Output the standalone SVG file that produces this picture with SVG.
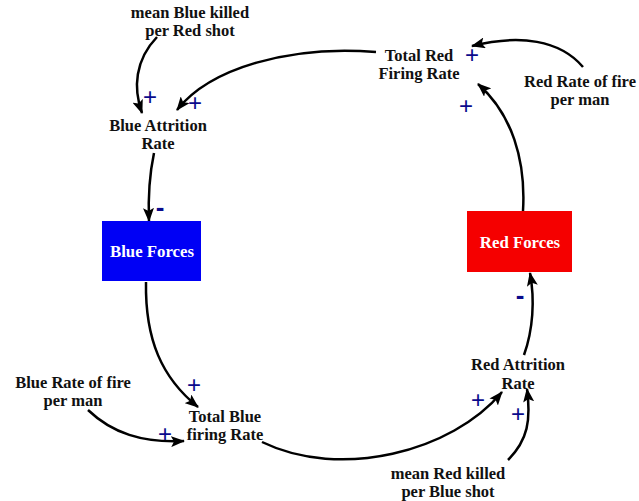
<svg xmlns="http://www.w3.org/2000/svg" width="639" height="501" viewBox="0 0 639 501">
<style>
.lbl{font-family:"Liberation Serif","Times New Roman",serif;font-weight:bold;font-size:16.5px;fill:#111;text-anchor:middle}
.box{font-family:"Liberation Serif","Times New Roman",serif;font-weight:bold;font-size:16.8px;fill:#fff;text-anchor:middle}
.pol{font-family:"Liberation Sans",Arial,sans-serif;font-size:24px;fill:#0a0a8c;text-anchor:middle}
.neg{font-family:"Liberation Sans",Arial,sans-serif;font-size:26px;font-weight:bold;fill:#0a0a8c;text-anchor:middle}
.c{fill:none;stroke:#000;stroke-width:2.5;marker-end:url(#ah)}
</style>
<defs>
<marker id="ah" viewBox="0 0 14 11" refX="13" refY="5.5" markerWidth="14" markerHeight="11" markerUnits="userSpaceOnUse" orient="auto">
<path d="M0,0 L14,5.5 L0,11 L3,5.5 Z" fill="#000"/>
</marker>
</defs>
<rect width="639" height="501" fill="#fff"/>
<g id="connectors">
<path class="c" d="M376,52 C290,45 210,68 177,110"/>
<path class="c" d="M157,37 C135,60 133,88 142,113"/>
<path class="c" d="M154,153 C150,172 148,196 149,221"/>
<path class="c" d="M146,282 C145,340 162,378 198,407"/>
<path class="c" d="M88,410 C112,433 142,443 184,441"/>
<path class="c" d="M262,442 C340,480 452,452 502,392"/>
<path class="c" d="M508,460 C528,440 531,420 527,389"/>
<path class="c" d="M524,355 C533,330 535,300 530,273"/>
<path class="c" d="M523,211 C526,160 512,114 478,84"/>
<path class="c" d="M583,67 C560,40 520,34 472,46"/>
</g>
<g id="mean-blue-killed"><text class="lbl" x="190" y="18">mean Blue killed</text><text class="lbl" x="190" y="36">per Red shot</text></g>
<g id="blue-attrition"><text class="lbl" x="158" y="131">Blue Attrition</text><text class="lbl" x="158" y="149">Rate</text></g>
<g id="total-red-firing"><text class="lbl" x="419" y="61">Total Red</text><text class="lbl" x="419" y="79">Firing Rate</text></g>
<g id="red-rate-fire"><text class="lbl" x="580" y="87">Red Rate of fire</text><text class="lbl" x="580" y="105">per man</text></g>
<g id="blue-forces"><rect x="102" y="221" width="99" height="60" fill="#0000f5"/><text class="box" x="152" y="257">Blue Forces</text></g>
<g id="red-forces"><rect x="467" y="211" width="105" height="61" fill="#f50000"/><text class="box" x="520" y="248">Red Forces</text></g>
<g id="red-attrition"><text class="lbl" x="518" y="370">Red Attrition</text><text class="lbl" x="518" y="389">Rate</text></g>
<g id="blue-rate-fire"><text class="lbl" x="73" y="388">Blue Rate of fire</text><text class="lbl" x="73" y="406">per man</text></g>
<g id="total-blue-firing"><text class="lbl" x="225" y="422">Total Blue</text><text class="lbl" x="225" y="440">firing Rate</text></g>
<g id="mean-red-killed"><text class="lbl" x="448" y="479">mean Red killed</text><text class="lbl" x="448" y="497">per Blue shot</text></g>
<g id="polarities">
<text class="pol" x="150" y="105">+</text>
<text class="pol" x="195" y="111">+</text>
<text class="neg" x="160" y="216">-</text>
<text class="pol" x="472" y="63">+</text>
<text class="pol" x="466" y="114">+</text>
<text class="pol" x="194" y="393">+</text>
<text class="pol" x="165" y="442">+</text>
<text class="neg" x="520" y="304">-</text>
<text class="pol" x="478" y="408">+</text>
<text class="pol" x="518" y="422">+</text>
</g>
</svg>
